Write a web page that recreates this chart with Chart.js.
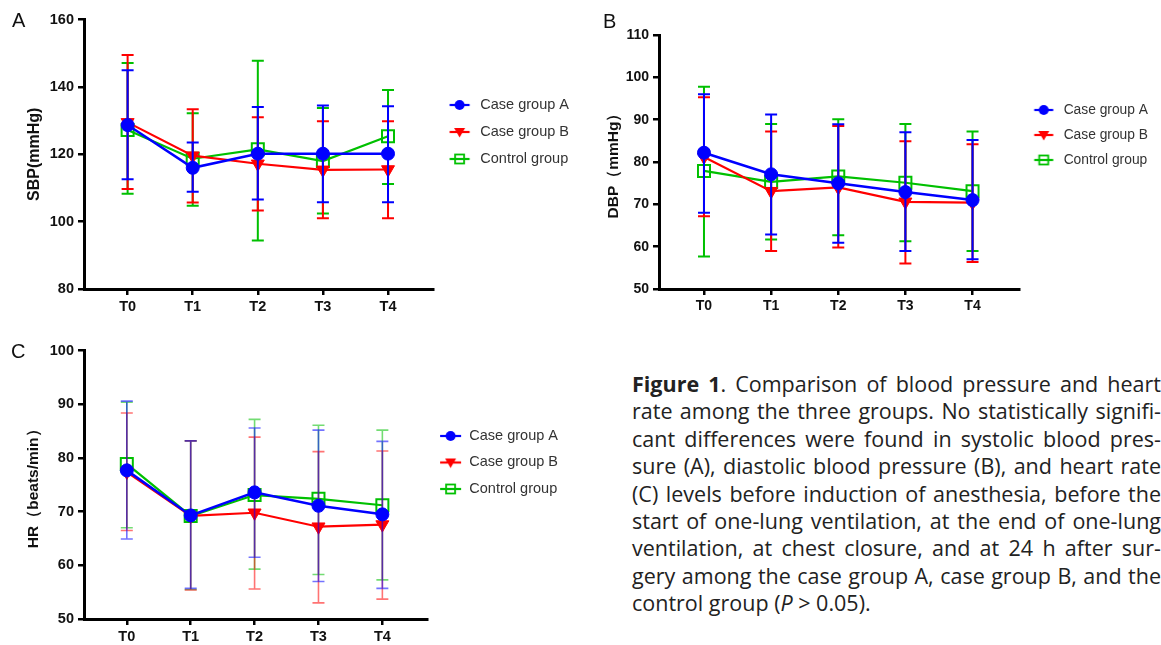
<!DOCTYPE html>
<html>
<head>
<meta charset="utf-8">
<script src="https://cdn.jsdelivr.net/npm/chart.js@4.4.0/dist/chart.umd.min.js"></script>
<style>
  html, body { margin: 0; padding: 0; background: #fff; width: 1161px; height: 645px; overflow: hidden; position: relative; }
  .panel { position: absolute; }
  .tag { position: absolute; font: 20px "Liberation Sans", Arial, sans-serif; color: #111; }
  #caption { position: absolute; left: 632px; top: 370px; width: 529px; font: 21.5px "Open Sans", sans-serif; line-height: 27.4px; color: #222; }
  #caption div { text-align: justify; text-align-last: justify; }
  #caption div.last { text-align-last: left; }
</style>
</head>
<body>
<div class="panel" style="left:0;top:0;width:579px;height:324px"><canvas id="chartA"></canvas></div>
<div class="panel" style="left:580px;top:0;width:578px;height:324px"><canvas id="chartB"></canvas></div>
<div class="panel" style="left:0;top:330px;width:568px;height:324px"><canvas id="chartC"></canvas></div>

<div class="tag" style="left:12px;top:9px">A</div>
<div class="tag" style="left:603px;top:9.5px">B</div>
<div class="tag" style="left:11px;top:339.5px">C</div>

<div id="caption">
  <div><b>Figure 1</b>. Comparison of blood pressure and heart</div>
  <div>rate among the three groups. No statistically signifi-</div>
  <div>cant differences were found in systolic blood pres-</div>
  <div>sure (A), diastolic blood pressure (B), and heart rate</div>
  <div>(C) levels before induction of anesthesia, before the</div>
  <div>start of one-lung ventilation, at the end of one-lung</div>
  <div>ventilation, at chest closure, and at 24 h after sur-</div>
  <div>gery among the case group A, case group B, and the</div>
  <div class="last">control group (<i>P</i> &gt; 0.05).</div>
</div>

<script>
// --- data ---
const timePoints = ["T0", "T1", "T2", "T3", "T4"];
const groupNames = ["Case group A", "Case group B", "Control group"];

// A: SBP (mmHg)
const sbpMeanA = [128.7, 116.0, 120.2, 120.2, 120.2];
const sbpLowA  = [112.6, 108.9, 106.6, 105.8, 105.8];
const sbpHighA = [145.0, 123.5, 134.1, 134.5, 134.3];
const sbpMeanB = [129.5, 119.6, 117.2, 115.4, 115.5];
const sbpLowB  = [109.7, 105.7, 103.3, 101.0, 101.0];
const sbpHighB = [149.5, 133.4, 131.0, 129.8, 129.8];
const sbpMeanC = [127.2, 118.7, 121.5, 118.0, 125.4];
const sbpLowC  = [108.3, 104.7, 94.4, 102.4, 111.2];
const sbpHighC = [147.1, 132.2, 147.8, 133.8, 139.1];

// B: DBP (mmHg)
const dbpMeanA = [82.2, 77.1, 75.0, 72.9, 71.0];
const dbpLowA  = [68.0, 62.9, 60.9, 59.0, 57.0];
const dbpHighA = [96.0, 91.2, 88.9, 87.0, 85.2];
const dbpMeanB = [81.2, 73.1, 74.0, 70.6, 70.4];
const dbpLowB  = [67.2, 59.0, 59.8, 56.0, 56.4];
const dbpHighB = [95.3, 87.2, 88.5, 84.9, 84.2];
const dbpMeanC = [77.9, 75.3, 76.6, 75.1, 73.1];
const dbpLowC  = [57.7, 61.7, 62.7, 61.3, 59.0];
const dbpHighC = [97.8, 89.0, 90.1, 89.0, 87.2];

// C: HR (beats/min)
const hrMeanA = [77.7, 69.3, 73.6, 71.1, 69.5];
const hrLowA  = [64.9, 55.7, 61.5, 57.0, 55.7];
const hrHighA = [90.6, 83.2, 85.6, 85.2, 83.1];
const hrMeanB = [77.4, 69.2, 69.8, 67.2, 67.6];
const hrLowB  = [66.5, 55.4, 55.6, 53.0, 53.7];
const hrHighB = [88.4, 83.2, 83.9, 81.2, 81.3];
const hrMeanC = [78.9, 69.2, 73.1, 72.4, 71.2];
const hrLowC  = [67.0, 55.5, 59.3, 58.3, 57.3];
const hrHighC = [90.4, 83.2, 87.2, 86.1, 85.2];

// --- styles ---
Chart.defaults.font.family = '"Liberation Sans", Arial, Helvetica, sans-serif';
Chart.defaults.color = "#111";

const BLUE = "#0000ff", RED = "#ff0000", GREEN = "#00c000";
const markerStyles = [
  { color: BLUE,  pointStyle: "circle",   radius: 6.5, rotation: 0,   fill: true,  line: 2.5 },
  { color: RED,   pointStyle: "triangle", radius: 7.5, rotation: 180, fill: true,  line: 2.2 },
  { color: GREEN, pointStyle: "rect",     radius: 8.5, rotation: 0,   fill: false, line: 2.2 },
];

// error bars drawn under each dataset, through the chart scales
const errorBars = {
  id: "errorBars",
  beforeDatasetDraw(chart, args, opts) {
    const ds = chart.data.datasets[args.index];
    if (!ds.errLow) return;
    const xs = chart.scales.x, ys = chart.scales.y;
    const ctx = chart.ctx;
    ctx.save();
    ctx.globalAlpha = opts.alpha ?? 1;
    ctx.strokeStyle = ds.borderColor;
    ctx.lineWidth = opts.width ?? 2;
    const cap = opts.cap ?? 6;
    ds.data.forEach((p, i) => {
      const px = xs.getPixelForValue(p.x);
      const top = ys.getPixelForValue(ds.errHigh[i]);
      const bot = ys.getPixelForValue(ds.errLow[i]);
      ctx.beginPath();
      ctx.moveTo(px, top); ctx.lineTo(px, bot);
      ctx.moveTo(px - cap, top); ctx.lineTo(px + cap, top);
      ctx.moveTo(px - cap, bot); ctx.lineTo(px + cap, bot);
      ctx.stroke();
    });
    ctx.restore();
  }
};

// small "line + marker" glyph for the legend
function legendIcon(st, boxW, lineLen) {
  const c = document.createElement("canvas");
  c.width = Math.round(boxW); c.height = 16;
  const g = c.getContext("2d");
  const cx = c.width / 2, cy = 8;
  g.strokeStyle = st.color; g.fillStyle = st.color; g.lineWidth = 2.2;
  g.beginPath(); g.moveTo(cx - lineLen / 2, cy); g.lineTo(cx + lineLen / 2, cy); g.stroke();
  if (st.pointStyle === "circle") {
    g.beginPath(); g.arc(cx, cy, 5, 0, Math.PI * 2); g.fill();
  } else if (st.pointStyle === "triangle") {
    g.beginPath(); g.moveTo(cx - 5.5, cy - 4); g.lineTo(cx + 5.5, cy - 4); g.lineTo(cx, cy + 5.5); g.closePath(); g.fill();
  } else {
    g.lineWidth = 1.8; g.strokeRect(cx - 4.5, cy - 4.5, 9, 9);
  }
  return c;
}

function series(i, mean, low, high) {
  const st = markerStyles[i];
  return {
    label: groupNames[i],
    data: mean.map((v, k) => ({ x: k, y: v })),
    errLow: low,
    errHigh: high,
    borderColor: st.color,
    backgroundColor: st.color,
    borderWidth: st.line,
    tension: 0,
    pointStyle: st.pointStyle,
    pointRadius: st.radius,
    pointRotation: st.rotation,
    pointBackgroundColor: st.fill ? st.color : "rgba(0,0,0,0)",
    pointBorderColor: st.color,
    pointBorderWidth: st.fill ? 1 : 2,
  };
}

function buildPanel(id, p) {
  const icons = markerStyles.map((st) => legendIcon(st, p.boxW, p.iconLine));
  return new Chart(document.getElementById(id), {
    type: "line",
    data: {
      datasets: [
        series(0, p.meanA, p.lowA, p.highA),
        series(1, p.meanB, p.lowB, p.highB),
        series(2, p.meanC, p.lowC, p.highC),
      ],
    },
    options: {
      responsive: true,
      maintainAspectRatio: false,
      animation: false,
      layout: { padding: { top: p.padTop, left: 0, right: 0, bottom: 0 } },
      plugins: {
        tooltip: { enabled: false },
        errorBars: { width: p.errWidth, cap: p.cap, alpha: p.errAlpha },
        legend: {
          position: "right",
          align: "start",
          maxWidth: p.legendW,
          title: { display: true, text: "", font: { size: 10 }, padding: { top: p.legendOffset, bottom: 0 } },
          labels: {
            usePointStyle: true,
            pointStyleWidth: p.boxW,
            padding: p.legendGap,
            color: "#333",
            font: { size: p.legendFont },
            generateLabels(chart) {
              const items = Chart.defaults.plugins.legend.labels.generateLabels(chart);
              items.forEach((it, k) => { it.pointStyle = icons[k]; it.rotation = 0; });
              return items;
            },
          },
        },
      },
      scales: {
        x: {
          type: "linear",
          min: -0.67,
          max: 4.7,
          afterBuildTicks: (s) => { s.ticks = timePoints.map((_, k) => ({ value: k })); },
          afterFit: (s) => { s.height = 35; },
          ticks: {
            callback: (v) => timePoints[v],
            font: { size: p.tickFont, weight: "bold" },
            color: "#111",
            padding: 3,
            maxRotation: 0,
            autoSkip: false,
          },
          grid: { drawOnChartArea: false, color: "#000", lineWidth: 2.5, tickLength: 6 },
          border: { color: "#000", width: 3 },
        },
        y: {
          min: p.yMin,
          max: p.yMax,
          afterFit: (s) => { s.width = p.yWidth; },
          ticks: {
            stepSize: p.yStep,
            font: { size: p.tickFont, weight: "bold" },
            color: "#111",
            padding: 4,
          },
          grid: { drawOnChartArea: false, color: "#000", lineWidth: 2.5, tickLength: 6 },
          border: { color: "#000", width: 3 },
          title: {
            display: true,
            text: p.yTitle,
            color: "#111",
            font: { size: p.titleFont, weight: "bold" },
            padding: { top: p.titlePad, bottom: 0 },
          },
        },
      },
    },
    plugins: [errorBars],
  });
}

buildPanel("chartA", {
  meanA: sbpMeanA, lowA: sbpLowA, highA: sbpHighA,
  meanB: sbpMeanB, lowB: sbpLowB, highB: sbpHighB,
  meanC: sbpMeanC, lowC: sbpLowC, highC: sbpHighC,
  yMin: 80, yMax: 160, yStep: 20, yTitle: "SBP(mmHg)",
  padTop: 19.7, yWidth: 84, titleFont: 16, titlePad: 25.4, tickFont: 14.5,
  errWidth: 2, cap: 6, errAlpha: 1,
  legendW: 148, legendGap: 12.5, legendFont: 14.5, legendOffset: 53.5, boxW: 27, iconLine: 20,
});

buildPanel("chartB", {
  meanA: dbpMeanA, lowA: dbpLowA, highA: dbpHighA,
  meanB: dbpMeanB, lowB: dbpLowB, highB: dbpHighB,
  meanC: dbpMeanC, lowC: dbpLowC, highC: dbpHighC,
  yMin: 50, yMax: 110, yStep: 10, yTitle: "DBP（mmHg）",
  padTop: 35, yWidth: 79, titleFont: 15.5, titlePad: 24, tickFont: 14,
  errWidth: 2, cap: 6, errAlpha: 1,
  legendW: 140, legendGap: 11.2, legendFont: 13.8, legendOffset: 44.9, boxW: 26, iconLine: 19,
});

buildPanel("chartC", {
  meanA: hrMeanA, lowA: hrLowA, highA: hrHighA,
  meanB: hrMeanB, lowB: hrLowB, highB: hrHighB,
  meanC: hrMeanC, lowC: hrLowC, highC: hrHighC,
  yMin: 50, yMax: 100, yStep: 10, yTitle: "HR（beats/min）",
  padTop: 20.7, yWidth: 84, titleFont: 15.5, titlePad: 24.4, tickFont: 14.5,
  errWidth: 1.6, cap: 6, errAlpha: 0.55,
  legendW: 142, legendGap: 12, legendFont: 14.5, legendOffset: 54, boxW: 23, iconLine: 21,
});
</script>
</body>
</html>
